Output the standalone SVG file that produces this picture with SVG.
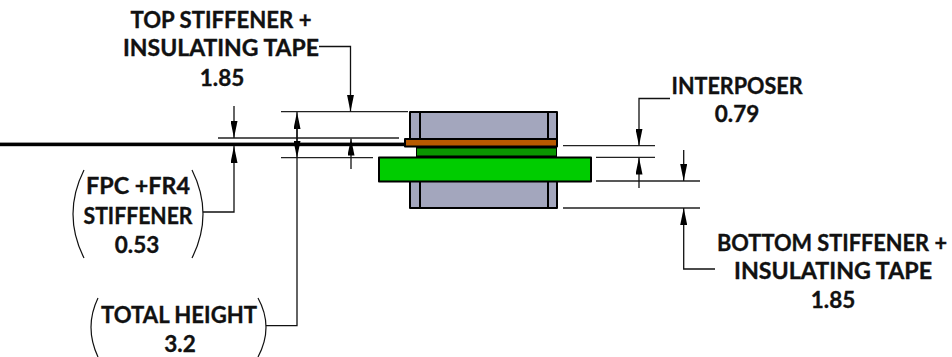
<svg xmlns="http://www.w3.org/2000/svg" width="952" height="357" viewBox="0 0 952 357">
<style>
text{font-family:"Lato","Liberation Sans",sans-serif;font-weight:700;font-size:22.500px;fill:#111;stroke:#111;stroke-width:.35;text-anchor:middle}
.ext{stroke:#222;stroke-width:1.300;fill:none}
.ld{stroke:#111;stroke-width:1.300;fill:none}
.par{stroke:#111;stroke-width:1.200;fill:none}
.part{stroke:#000;stroke-width:2;stroke-linejoin:round}
</style>
<defs>
<marker id="a" markerUnits="userSpaceOnUse" markerWidth="17" markerHeight="7" refX="17" refY="3.500" orient="auto" viewBox="0 0 17 7"><path d="M0 0L17 3.500L0 7z" fill="#000"/></marker>
</defs>
<rect width="952" height="357" fill="#fff"/>
<g id="fpc"><rect x="0" y="142.600" width="406" height="3.600" fill="#000"/></g>
<g id="top-stiffener">
<rect class="part" x="410" y="112" width="147" height="27" fill="#a3a6bd"/>
<path class="part" d="M420 112V139M548 112V139" fill="none"/>
</g>
<g id="bottom-stiffener">
<rect class="part" x="410" y="181" width="147" height="27" fill="#a3a6bd"/>
<path class="part" d="M420 181V208M548 181V208" fill="none"/>
</g>
<g id="interposer-stack">
<rect x="416" y="146" width="141" height="12" fill="#000"/>
<rect class="part" x="405" y="139" width="152" height="7.500" fill="#b85a00"/>
<rect x="417" y="148.500" width="139" height="7" fill="#0a9600"/>
</g>
<g id="fr4"><rect class="part" x="379" y="157.500" width="212" height="24" fill="#00cc00"/></g>
<g id="connectors">
<path class="ext" d="M218 138H399M281 111.700H408M281 157.700H373M563 145.700H655M596 157.300H655M596 181H700M563 208H700"/>
<path class="ld" d="M234 106V138" marker-end="url(#a)"/>
<path class="ld" d="M203 212H234V146" marker-end="url(#a)"/>
<path class="ld" d="M297 150V112" marker-end="url(#a)"/>
<path class="ld" d="M266 325.700H297V120V158" marker-end="url(#a)"/>
<path class="ld" d="M319 46.500H350.500V111.700" marker-end="url(#a)"/>
<path class="ld" d="M351 169V138.500" marker-end="url(#a)"/>
<path class="ld" d="M670 98.500H639V145.700" marker-end="url(#a)"/>
<path class="ld" d="M639 188V157.500" marker-end="url(#a)"/>
<path class="ld" d="M683.700 150V181" marker-end="url(#a)"/>
<path class="ld" d="M715 269H683.700V208" marker-end="url(#a)"/>
</g>
<g id="label-top">
<text x="221" y="27.500" textLength="181" lengthAdjust="spacingAndGlyphs">TOP STIFFENER +</text>
<text x="221" y="56" textLength="196" lengthAdjust="spacingAndGlyphs">INSULATING TAPE</text>
<text x="222" y="86">1.85</text>
</g>
<g id="label-fpc">
<path class="par" d="M84 170Q62 214 84 258M192 170Q214 214 192 258"/>
<text x="138" y="194" textLength="104" lengthAdjust="spacingAndGlyphs">FPC +FR4</text>
<text x="138" y="224" textLength="109" lengthAdjust="spacingAndGlyphs">STIFFENER</text>
<text x="137" y="253">0.53</text>
</g>
<g id="label-total">
<path class="par" d="M98 298Q84 327 98 357M258 298Q274 327 258 357"/>
<text x="179" y="322.700" textLength="156" lengthAdjust="spacingAndGlyphs">TOTAL HEIGHT</text>
<text x="180" y="351.700">3.2</text>
</g>
<g id="label-interposer">
<text x="737" y="94" textLength="131" lengthAdjust="spacingAndGlyphs">INTERPOSER</text>
<text x="737" y="122">0.79</text>
</g>
<g id="label-bottom">
<text x="832" y="251" textLength="230" lengthAdjust="spacingAndGlyphs">BOTTOM STIFFENER +</text>
<text x="833" y="279" textLength="198" lengthAdjust="spacingAndGlyphs">INSULATING TAPE</text>
<text x="833" y="308">1.85</text>
</g>
</svg>
